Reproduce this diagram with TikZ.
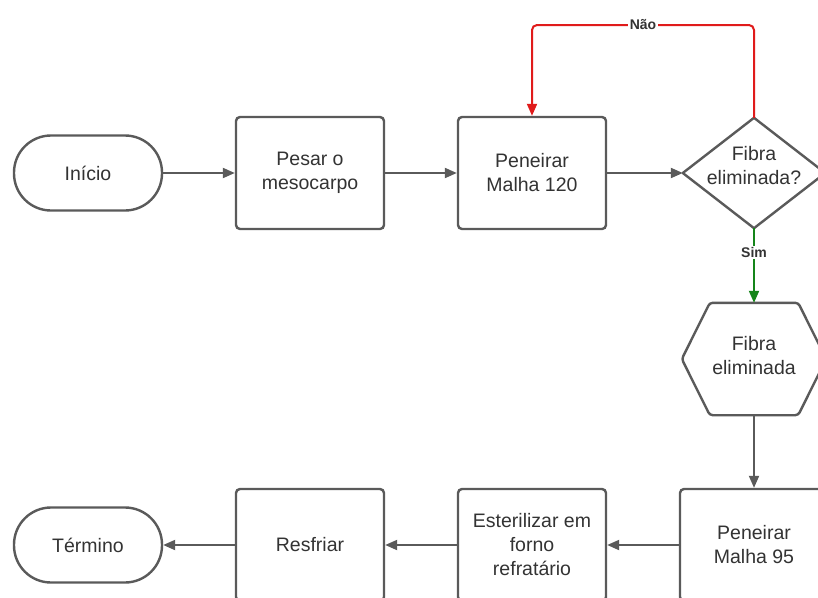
\documentclass[tikz,border=0pt]{standalone}
\usepackage{fontspec}
\setmainfont{Liberation Sans}
\usetikzlibrary{arrows.meta}
\definecolor{lin}{HTML}{5A5A5A}
\definecolor{txt}{HTML}{333333}
\definecolor{nored}{HTML}{E01B1B}
\definecolor{simgreen}{HTML}{15851A}
\begin{document}
\begin{tikzpicture}[x=1pt,y=-1pt,
  base/.style={draw=lin,line width=2.4pt,text=txt,align=center,inner sep=0pt,
    font=\fontsize{19.5}{24}\selectfont},
  procbox/.style={base,rectangle,rounded corners=4pt,minimum width=148pt,minimum height=112pt},
  termbox/.style={base,rectangle,rounded corners=37pt,minimum width=148pt,minimum height=75pt},
  shapebox/.style={inner sep=0pt},
  shapetext/.style={align=center,inner sep=0pt,text=txt,font=\fontsize{19.5}{24}\selectfont},
  outl/.style={draw=lin,line width=2.4pt,line join=round},
  conn/.style={draw=lin,line width=2pt,-{Triangle[length=12pt,width=10pt]}},
  lbl/.style={font=\bfseries\fontsize{14}{16}\selectfont,text=txt,fill=white,inner sep=1.5pt}
]
\useasboundingbox (0,0) rectangle (818,597);
\fill[white] (0,0) rectangle (818,597);
% top row
\node[termbox] (ini) at (88,173) {Início};
\node[procbox] (pes) at (310,173) {Pesar o\\mesocarpo};
\node[procbox] (p120) at (532,173) {Peneirar\\Malha 120};
\node[shapebox,minimum width=142pt,minimum height=110pt] (dec) at (754,173) {};
\draw[outl] (dec.west) -- (dec.north) -- (dec.east) -- (dec.south) -- cycle;
\node[shapetext] (dect) at (754,166) {Fibra\\eliminada?};
% hexagon
\node[shapebox,minimum width=144pt,minimum height=112pt] (hex) at (754,359) {};
\draw[outl,rounded corners=3pt]
  (hex.west) -- ([xshift=28pt]hex.north west) -- ([xshift=-28pt]hex.north east)
  -- (hex.east) -- ([xshift=-28pt]hex.south east) -- ([xshift=28pt]hex.south west) -- cycle;
\node[shapetext] (hext) at (754,356) {Fibra\\eliminada};
% bottom row
\node[procbox] (p95) at (754,545) {Peneirar\\Malha 95};
\node[procbox] (est) at (532,545) {Esterilizar em\\forno\\refratário};
\node[procbox] (res) at (310,545) {Resfriar};
\node[termbox] (ter) at (88,545) {Término};
% connectors
\draw[conn] (ini.east) -- (pes.west);
\draw[conn] (pes.east) -- (p120.west);
\draw[conn] (p120.east) -- (dec.west);
\coordinate (topy) at (643,25);
\draw[draw=nored,line width=2pt,rounded corners=5pt,-{Triangle[length=12pt,width=10pt]}]
  (dec.north) |- (topy) -| (p120.north);
\node[lbl] (nao) at (topy) {Não};
\draw[draw=simgreen,line width=2pt,-{Triangle[length=12pt,width=10pt]}]
  (dec.south) -- (hex.north) node[lbl,pos=0.33] (sim) {Sim};
\draw[conn] (hex.south) -- (p95.north);
\draw[conn] (p95.west) -- (est.east);
\draw[conn] (est.west) -- (res.east);
\draw[conn] (res.west) -- (ter.east);
\end{tikzpicture}
\end{document}
